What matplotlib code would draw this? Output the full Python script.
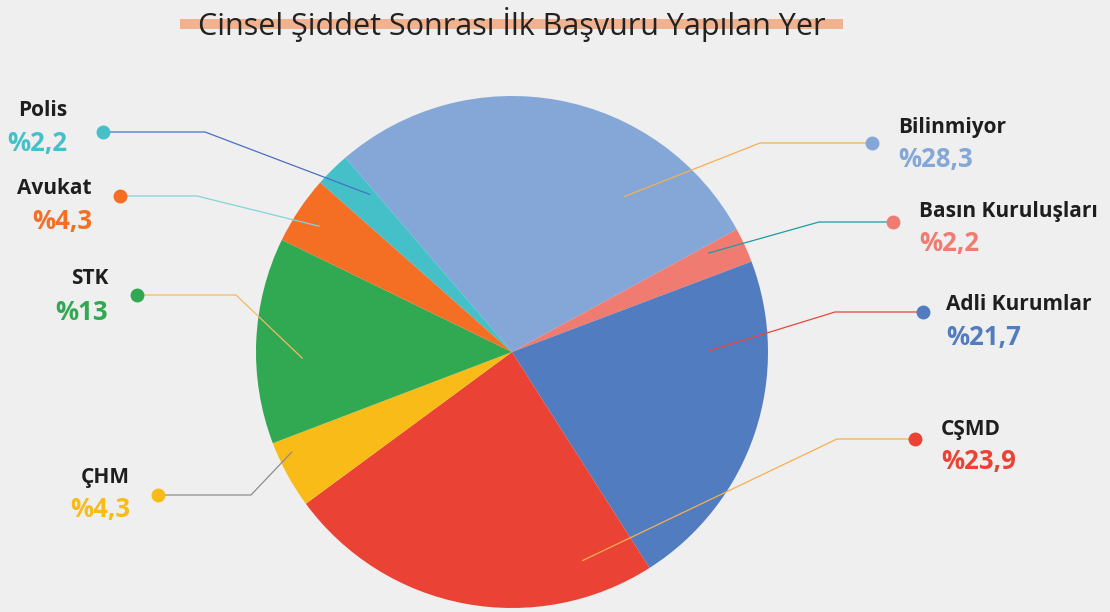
import numpy as np
import matplotlib
matplotlib.use("Agg")
import matplotlib.pyplot as plt
from matplotlib.patches import Rectangle

W, H = 1110, 612

labels = ["Bilinmiyor", "Basın Kuruluşları", "Adli Kurumlar", "CŞMD",
          "ÇHM", "STK", "Avukat", "Polis"]
values = [28.3, 2.2, 21.7, 23.9, 4.3, 13, 4.3, 2.2]
pct_text = ["%28,3", "%2,2", "%21,7", "%23,9", "%4,3", "%13", "%4,3", "%2,2"]
colors = ["#84a7d7", "#f07b71", "#517cc0", "#ea4335",
          "#f8bb17", "#31a852", "#f46e23", "#45c0c8"]
line_colors = ["#f6b04f", "#1b9ca6", "#e8473a", "#f6b04f",
               "#8e8e8e", "#f6b866", "#86d3d8", "#4a70c2"]

# leader anchor inside each slice: (fraction along slice, fraction of radius)
anchor = [(0.75, 0.75), (0.24, 0.86), (0.26, 0.77), (0.16, 0.86),
          (0.77, 0.945), (0.41, 0.82), (0.46, 0.90), (0.81, 0.83)]
# elbow x, dot (x, y) in pixels, text side
elbow_x = [760, 819, 835, 837, 251, 236, 197, 205]
dots = [(872, 143), (893, 222), (923, 312), (915, 439),
        (158, 495), (137, 295), (120, 196), (103, 132)]
text_x = [898, 919, 946, 941, 130, 108, 92, 67]
name_y = [128, 212, 305, 430, 478, 278, 188, 110]
pct_y = [160, 243, 337, 462, 510, 312, 222, 143]

cx, cy, R = 512, 352, 256
start = 130.6

plt.rcParams['font.family'] = ['Open Sans', 'DejaVu Sans']

fig = plt.figure(figsize=(W / 100, H / 100), dpi=100, facecolor="#efefef")
ax = fig.add_axes([0, 0, 1, 1])
ax.set_facecolor("#efefef")


def py(y):
    return H - y


ax.pie(values, colors=colors, startangle=start, counterclock=False,
       center=(cx, py(cy)), radius=R, wedgeprops=dict(linewidth=0))
ax.set_xlim(0, W)
ax.set_ylim(0, H)
ax.set_aspect('equal')
ax.axis('off')

total = sum(values)
cum = np.concatenate([[0], np.cumsum(values)])
for i, lab in enumerate(labels):
    f, rf = anchor[i]
    ang = np.deg2rad(start - 360 * (cum[i] + f * values[i]) / total)
    x0 = cx + rf * R * np.cos(ang)
    y0 = py(cy) + rf * R * np.sin(ang)
    dx, dy = dots[i]
    ax.plot([x0, elbow_x[i], dx], [y0, py(dy), py(dy)],
            color=line_colors[i], lw=0.9, zorder=3)
    ax.plot(dx, py(dy), 'o', ms=9, color=colors[i], zorder=4)
    ha = 'left' if dx > cx else 'right'
    ax.text(text_x[i], py(name_y[i]), lab, ha=ha, va='center',
            fontsize=15, fontweight='bold', color="#1e1e1e")
    ax.text(text_x[i], py(pct_y[i]), pct_text[i], ha=ha, va='center',
            fontsize=18.5, fontweight='bold', color=colors[i])

# title with highlight bar
ax.add_patch(Rectangle((180, py(29)), 663, 10, color="#f1b28f", lw=0, zorder=1))
ax.text(512, py(24), "Cinsel Şiddet Sonrası İlk Başvuru Yapılan Yer",
        ha='center', va='center', fontsize=22, color="#222222", zorder=2)

fig.savefig("out.png", dpi=100, facecolor=fig.get_facecolor())
